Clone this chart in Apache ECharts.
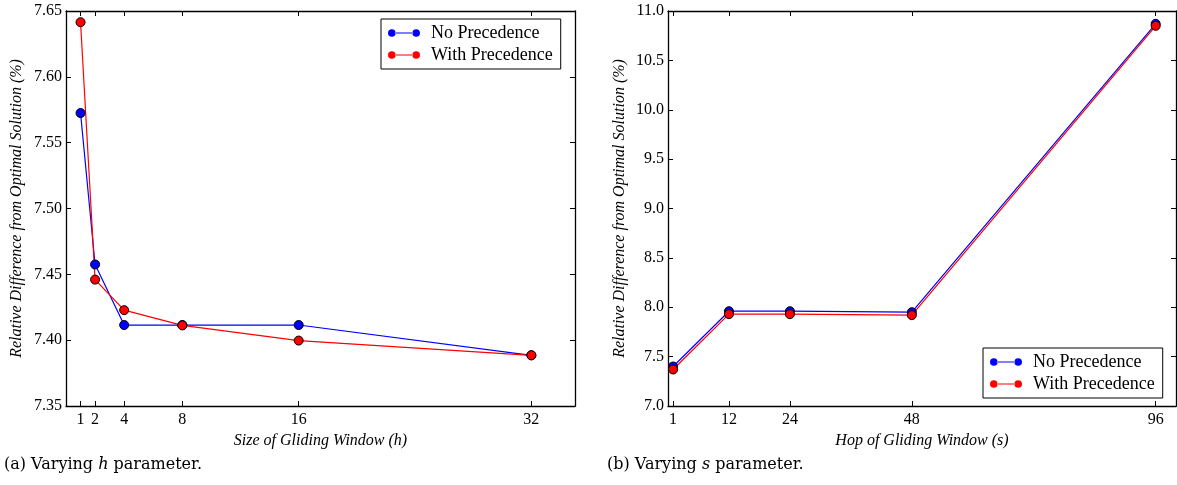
<!DOCTYPE html>
<html>
<head>
<meta charset="utf-8">
<script src="https://cdn.jsdelivr.net/npm/echarts@6/dist/echarts.min.js"></script>
<style>
  html, body { margin: 0; padding: 0; background: #fff; }
  #chart { width: 1177px; height: 485px; }
</style>
</head>
<body>
<div id="chart"></div>
<script>
// (a) varying h
var hValues = [1, 2, 4, 8, 16, 32];
var hNoPrec = [7.5725, 7.4575, 7.4115, 7.4115, 7.4115, 7.3885];
var hWithPrec = [7.6415, 7.4460, 7.4228, 7.4112, 7.3997, 7.3885];
var hTicks = [1, 2, 4, 8, 16, 32];

// (b) varying s
var sValues = [1, 12, 24, 48, 96];
var sNoPrec = [7.40, 7.96, 7.96, 7.95, 10.87];
var sWithPrec = [7.37, 7.93, 7.93, 7.92, 10.85];
var sTicks = [1, 12, 24, 48, 96];

var seriesNames = ['No Precedence', 'With Precedence'];
var seriesColors = ['#0000ff', '#ff0000'];

var tickFont = 'Liberation Serif';
var nameFont = 'Liberation Serif';

function pairs(xs, ys) {
  return xs.map(function (x, i) { return [x, ys[i]]; });
}

// line with a dot on each end
var legendIcon = 'path://M0,5a5,5 0 1,0 10,0a5,5 0 1,0 -10,0Z M9,4.3h24v1.4h-24Z M32,5a5,5 0 1,0 10,0a5,5 0 1,0 -10,0Z';

function bottomX(grid, min, max, ticks, name) {
  return {
    type: 'value', gridIndex: grid, position: 'bottom', min: min, max: max,
    name: name, nameLocation: 'middle', nameGap: 24,
    nameTextStyle: { fontFamily: nameFont, fontStyle: 'italic', fontSize: 16, color: '#000' },
    axisLine: { onZero: false, lineStyle: { color: '#000', width: 1.3 } },
    axisTick: { inside: true, length: 5, customValues: ticks, lineStyle: { color: '#000' } },
    axisLabel: { customValues: ticks, fontFamily: tickFont, fontSize: 16, color: '#000', margin: 6 },
    splitLine: { show: false }
  };
}
function topX(grid, min, max, ticks) {
  return {
    type: 'value', gridIndex: grid, position: 'top', min: min, max: max,
    axisLine: { onZero: false, lineStyle: { color: '#000', width: 1.3 } },
    axisTick: { inside: true, length: 5, customValues: ticks, lineStyle: { color: '#000' } },
    axisLabel: { show: false },
    splitLine: { show: false }
  };
}
function leftY(grid, min, max, interval, decimals, gap) {
  return {
    type: 'value', gridIndex: grid, position: 'left', min: min, max: max, interval: interval,
    name: 'Relative Difference from Optimal Solution (%)', nameLocation: 'middle', nameGap: gap,
    nameTextStyle: { fontFamily: nameFont, fontStyle: 'italic', fontSize: 16, color: '#000' },
    axisLine: { onZero: false, lineStyle: { color: '#000', width: 1.3 } },
    axisTick: { inside: true, length: 5, lineStyle: { color: '#000' } },
    axisLabel: { fontFamily: tickFont, fontSize: 16, color: '#000', margin: 4,
      formatter: function (v) { return v.toFixed(decimals); } },
    splitLine: { show: false }
  };
}
function rightY(grid, min, max, interval) {
  return {
    type: 'value', gridIndex: grid, position: 'right', min: min, max: max, interval: interval,
    axisLine: { onZero: false, lineStyle: { color: '#000', width: 1.3 } },
    axisTick: { inside: true, length: 5, lineStyle: { color: '#000' } },
    axisLabel: { show: false },
    splitLine: { show: false }
  };
}
function lineSeries(name, color, data, xi, yi) {
  return {
    type: 'line', name: name, xAxisIndex: xi, yAxisIndex: yi, data: data,
    symbol: 'circle', symbolSize: 9, showSymbol: true,
    lineStyle: { color: color, width: 1.2 },
    itemStyle: { color: color, borderColor: '#000', borderWidth: 1 },
    emphasis: { disabled: true },
    animation: false
  };
}
function legendBox(left, top) {
  return {
    left: left, top: top, orient: 'vertical',
    data: seriesNames,
    icon: legendIcon, itemWidth: 32, itemHeight: 8, itemGap: 4,
    padding: [5, 8, 5, 7],
    borderColor: '#000', borderWidth: 1,
    itemStyle: { borderWidth: 0 },
    textStyle: { fontFamily: tickFont, fontSize: 18, color: '#000', padding: [0, 0, 0, 6] },
    selectedMode: false
  };
}

var chart = echarts.init(document.getElementById('chart'), null, { renderer: 'canvas' });

var option = {
  backgroundColor: '#fff',
  animation: false,
  grid: [
    { left: 66, top: 11, width: 509, height: 395 },
    { left: 668, top: 11, width: 508, height: 395 }
  ],
  xAxis: [
    bottomX(0, 0, 35, hTicks, 'Size of Gliding Window (h)'),
    topX(0, 0, 35, hTicks),
    bottomX(1, 0, 100, sTicks, 'Hop of Gliding Window (s)'),
    topX(1, 0, 100, sTicks)
  ],
  yAxis: [
    leftY(0, 7.35, 7.65, 0.05, 2, 41),
    rightY(0, 7.35, 7.65, 0.05),
    leftY(1, 7.0, 11.0, 0.5, 1, 40),
    rightY(1, 7.0, 11.0, 0.5)
  ],
  legend: [legendBox(381, 19), legendBox(983, 348)],
  series: [
    lineSeries(seriesNames[0], seriesColors[0], pairs(hValues, hNoPrec), 0, 0),
    lineSeries(seriesNames[1], seriesColors[1], pairs(hValues, hWithPrec), 0, 0),
    lineSeries(seriesNames[0], seriesColors[0], pairs(sValues, sNoPrec), 2, 2),
    lineSeries(seriesNames[1], seriesColors[1], pairs(sValues, sWithPrec), 2, 2)
  ],
  graphic: [
    {
      type: 'text', left: 4, top: 457,
      style: {
        text: '(a) Varying {i|h} parameter.',
        font: '16px "DejaVu Serif"', fill: '#000',
        rich: { i: { fontStyle: 'italic', fontFamily: 'DejaVu Serif', fontSize: 16 } }
      }
    },
    {
      type: 'text', left: 607, top: 457,
      style: {
        text: '(b) Varying {i|s} parameter.',
        font: '16px "DejaVu Serif"', fill: '#000',
        rich: { i: { fontStyle: 'italic', fontFamily: 'DejaVu Serif', fontSize: 16 } }
      }
    }
  ]
};

chart.setOption(option);
</script>
</body>
</html>
